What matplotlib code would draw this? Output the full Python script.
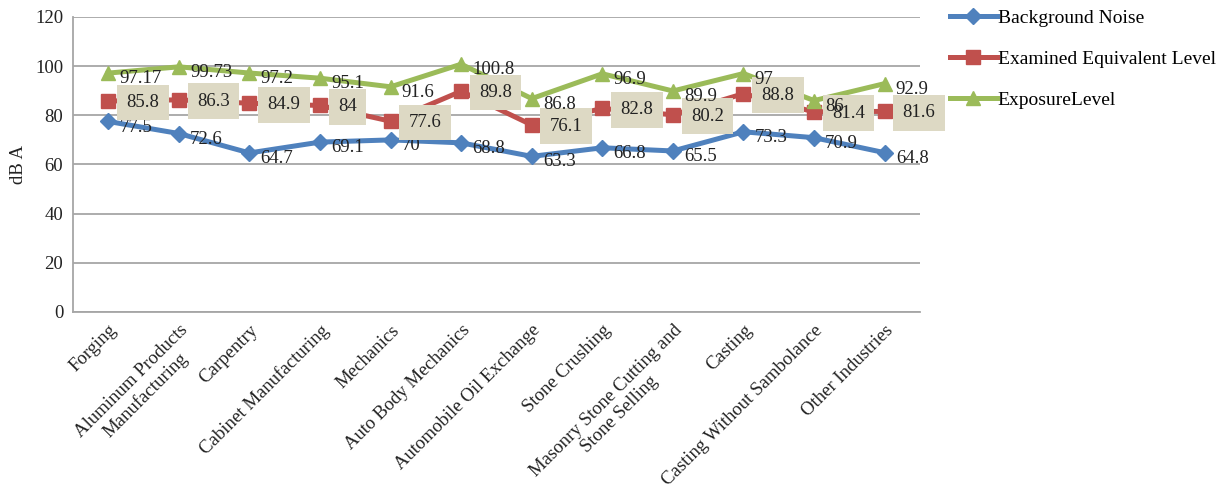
import numpy as np
import matplotlib
matplotlib.use("Agg")
import matplotlib.pyplot as plt

plt.rcParams['font.family'] = ['Liberation Serif', 'DejaVu Serif']

categories = [
    "Forging", "Aluminum Products\nManufacturing", "Carpentry",
    "Cabinet Manufacturing", "Mechanics", "Auto Body Mechanics",
    "Automobile Oil Exchange", "Stone Crushing",
    "Masonry Stone Cutting and\nStone Selling", "Casting",
    "Casting Without Sambolance", "Other Industries",
]
background_noise = [77.5, 72.6, 64.7, 69.1, 70, 68.8, 63.3, 66.8, 65.5, 73.3, 70.9, 64.8]
examined_level = [85.8, 86.3, 84.9, 84, 77.6, 89.8, 76.1, 82.8, 80.2, 88.8, 81.4, 81.6]
exposure_level = [97.17, 99.73, 97.2, 95.1, 91.6, 100.8, 86.8, 96.9, 89.9, 97, 86, 92.9]
exposure_text = ["97.17", "99.73", "97.2", "95.1", "91.6", "100.8", "86.8", "96.9", "89.9", "97", "86", "92.9"]

blue = "#4F81BD"
red = "#C0504D"
green = "#9BBB59"
grid_col = "#A6A6A6"
txt = "#222222"

fig = plt.figure(figsize=(12.24, 4.95), dpi=100)
ax = fig.add_axes([0.0596, 0.3697, 0.692, 0.596])
x = np.arange(len(categories))

ax.plot(x, background_noise, color=blue, lw=3.6, marker="D", ms=8.5, label="Background Noise", zorder=3)
ax.plot(x, examined_level, color=red, lw=3.6, marker="s", ms=9.5, label="Examined Equivalent Level", zorder=3)
ax.plot(x, exposure_level, color=green, lw=3.6, marker="^", ms=10, label="ExposureLevel", zorder=3)

# value labels to the right of each point; exposure labels sit on top of the boxes
for i in x:
    ax.annotate(exposure_text[i], (i, exposure_level[i]), xytext=(8, -4), textcoords="offset points",
                ha="left", va="center", fontsize=13.5, color=txt, zorder=6)
    ax.annotate(f"{examined_level[i]:g}", (i, examined_level[i]), xytext=(13, -1), textcoords="offset points",
                ha="left", va="center", fontsize=13.5, color=txt, zorder=5,
                bbox=dict(boxstyle="square,pad=0.5", fc="#DDD9C4", ec="none"))
    ax.annotate(f"{background_noise[i]:g}", (i, background_noise[i]), xytext=(8, -4), textcoords="offset points",
                ha="left", va="center", fontsize=13.5, color=txt, zorder=4)

ax.set_xlim(-0.5, len(categories) - 0.5)
ax.set_ylim(0, 120)
ax.set_yticks(np.arange(0, 121, 20))
ax.yaxis.grid(True, color=grid_col, lw=1.3)
ax.set_axisbelow(True)
for s in ["top", "right"]:
    ax.spines[s].set_visible(False)
for s in ["left", "bottom"]:
    ax.spines[s].set_color(grid_col)
    ax.spines[s].set_linewidth(1.3)
ax.tick_params(axis="both", length=0, labelsize=13.5, colors=txt, pad=7)
ax.set_xticks(x)
ax.set_xticklabels(categories, rotation=45, ha="right", rotation_mode="anchor", multialignment="center")
ax.set_ylabel("dB A", fontsize=13.5, labelpad=6, color=txt)

ax.legend(loc="upper left", bbox_to_anchor=(1.015, 1.085), frameon=False, fontsize=14,
          handlelength=2.4, handletextpad=0.05, labelspacing=1.2)

fig.savefig("out.png", dpi=100)
